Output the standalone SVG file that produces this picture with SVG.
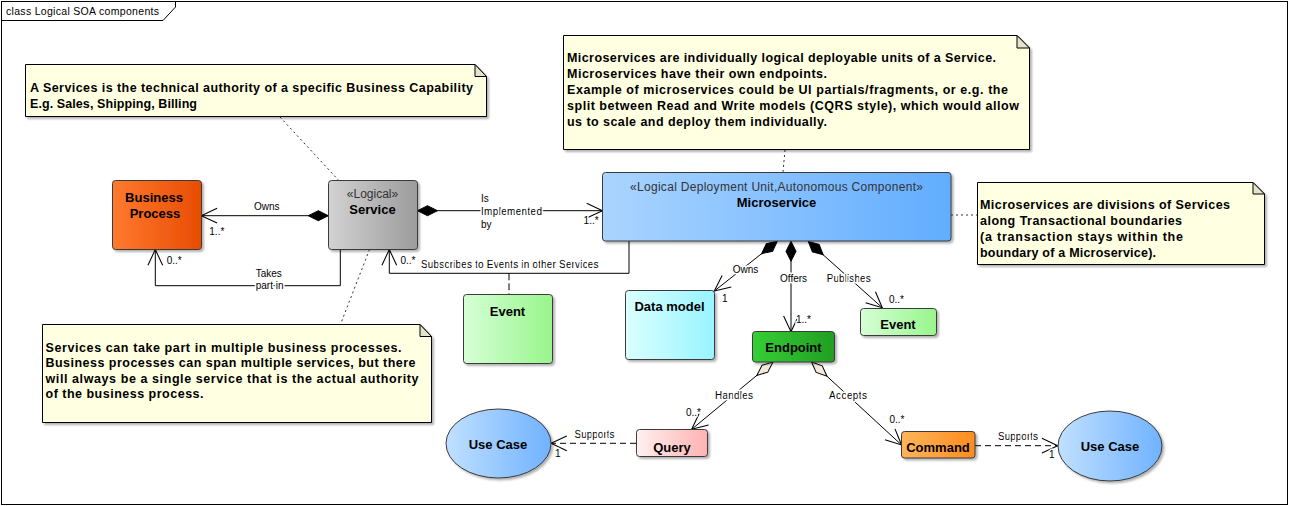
<svg xmlns="http://www.w3.org/2000/svg" width="1290" height="506" viewBox="0 0 1290 506">
<defs>
<style>
.box{stroke:#3a3a3a;stroke-width:1;filter:url(#sh)}
.note{fill:#FFFFE1;stroke:#000;stroke-width:1;filter:url(#sh)}
.fold{fill:#E4E4CC;stroke:#000;stroke-width:1}
.t{font-family:"Liberation Sans",Arial,sans-serif;fill:#000}
.nt{font-size:12.5px;font-weight:bold}
.nm{font-size:13px;font-weight:bold;text-anchor:middle}
.st{font-size:12px;text-anchor:middle;fill:#333}
.lb{font-size:10px;stroke:#fff;stroke-width:3;paint-order:stroke;stroke-linejoin:round}
.ln{fill:none;stroke:#000;stroke-width:1}
.dash{stroke-dasharray:6,4}
.dot{fill:none;stroke:#333;stroke-width:1;stroke-dasharray:2,3}
</style>
<filter id="sh" x="-10%" y="-10%" width="130%" height="130%">
<feDropShadow dx="2" dy="2" stdDeviation="1.2" flood-color="#000" flood-opacity="0.3"/>
</filter>
<linearGradient id="gBP" x1="0" x2="1"><stop offset="0" stop-color="#FF7A2E"/><stop offset="1" stop-color="#E84C02"/></linearGradient>
<linearGradient id="gSV" x1="0" x2="1"><stop offset="0" stop-color="#D2D2D2"/><stop offset="1" stop-color="#9C9C9C"/></linearGradient>
<linearGradient id="gMS" x1="0" x2="1"><stop offset="0" stop-color="#AAD4FF"/><stop offset="1" stop-color="#62ADFF"/></linearGradient>
<linearGradient id="gEV" x1="0" x2="1"><stop offset="0" stop-color="#D6FFD6"/><stop offset="1" stop-color="#98F58C"/></linearGradient>
<linearGradient id="gDM" x1="0" x2="1"><stop offset="0" stop-color="#DAFFFF"/><stop offset="1" stop-color="#98F4FF"/></linearGradient>
<linearGradient id="gEP" x1="0" x2="1"><stop offset="0" stop-color="#36CE36"/><stop offset="1" stop-color="#229E22"/></linearGradient>
<linearGradient id="gQ" x1="0" x2="1"><stop offset="0" stop-color="#FFF0F0"/><stop offset="1" stop-color="#FFB2B2"/></linearGradient>
<linearGradient id="gC" x1="0" x2="1"><stop offset="0" stop-color="#FFB45A"/><stop offset="1" stop-color="#FF8C1E"/></linearGradient>
<linearGradient id="gUC" x1="0" x2="1"><stop offset="0" stop-color="#C0E0FF"/><stop offset="1" stop-color="#70B2FF"/></linearGradient>
<marker id="arr" markerUnits="userSpaceOnUse" markerWidth="20" markerHeight="20" viewBox="-17 -9 19 18" refX="0" refY="0" orient="auto" overflow="visible">
<path d="M-15,-7 L0,0 L-15,7" fill="none" stroke="#000" stroke-width="1"/>
</marker>
<marker id="dia" markerUnits="userSpaceOnUse" markerWidth="22" markerHeight="12" viewBox="-1 -6 22 12" refX="0" refY="0" orient="auto" overflow="visible">
<path d="M0,0 L10,-5 L20,0 L10,5 Z" fill="#000" stroke="#000" stroke-width="1"/>
</marker>
<marker id="hdia" markerUnits="userSpaceOnUse" markerWidth="24" markerHeight="12" viewBox="-1 -6 24 12" refX="0" refY="0" orient="auto" overflow="visible">
<path d="M0,0 L10.5,-4.5 L21,0 L10.5,4.5 Z" fill="#F2EADA" stroke="#000" stroke-width="1"/>
</marker>
</defs>

<g id="frame">
<rect x="1.5" y="1.5" width="1286" height="503" fill="#fff" stroke="#000"/>
<path d="M1.5,20.5 L163,20.5 L175.5,7 L175.5,1.5" fill="none" stroke="#000"/>
<text class="t" x="6" y="14.5" font-size="10.5" textLength="153">class Logical SOA components</text>
</g>

<g id="connectors">
<path class="ln" d="M328.3,215.7 L201.3,215.7" marker-start="url(#dia)" marker-end="url(#arr)"/>
<path class="ln" d="M340.3,249.3 L340.3,285.7 L155.3,285.7 L155.3,249.5" marker-end="url(#arr)"/>
<path class="ln" d="M417.5,210.7 L602.5,210.7" marker-start="url(#dia)" marker-end="url(#arr)"/>
<path class="ln" d="M629,241 L629,273.3 L389.3,273.3 L389.3,249.5" marker-end="url(#arr)"/>
<path class="ln" d="M509,273.3 L509,294" stroke-dasharray="7,3"/>
<path class="ln" d="M777.3,241.3 L714.3,291" marker-start="url(#dia)" marker-end="url(#arr)"/>
<path class="ln" d="M791,241.3 L791,331.7" marker-start="url(#dia)" marker-end="url(#arr)"/>
<path class="ln" d="M808.3,241.5 L882.3,307.7" marker-start="url(#dia)" marker-end="url(#arr)"/>
<path class="ln" d="M773,362 L691.7,429.3" marker-start="url(#hdia)" marker-end="url(#arr)"/>
<path class="ln" d="M811.5,362 L901.6,445" marker-start="url(#hdia)" marker-end="url(#arr)"/>
<path class="ln dash" d="M636,443.3 L551,443.3" marker-end="url(#arr)"/>
<path class="ln dash" d="M975,445.7 L1057.7,445.7" marker-end="url(#arr)"/>
<path class="dot" d="M280,117 L338.3,180"/>
<path class="dot" d="M369.5,249.5 L340.5,324.3"/>
<path class="dot" d="M785,150 L783,172"/>
<path class="dot" d="M951,215 L977,215"/>

<text class="t lb" x="254" y="210">Owns</text>
<text class="t lb" x="209.3" y="235">1..*</text>
<text class="t lb" x="255.7" y="276.7">Takes</text>
<text class="t lb" x="255.7" y="289.3">part in</text>
<text class="t lb" x="166.7" y="264.3">0..*</text>
<text class="t lb" x="481" y="202.3">Is</text>
<text class="t lb" x="481" y="215" textLength="61">Implemented</text>
<text class="t lb" x="481" y="227.5">by</text>
<text class="t lb" x="583.6" y="224">1..*</text>
<text class="t lb" x="400.5" y="264.3">0..*</text>
<text class="t lb" x="421" y="268" textLength="177.6">Subscribes to Events in other Services</text>
<text class="t lb" x="732.7" y="273.3">Owns</text>
<text class="t lb" x="722" y="301.7">1</text>
<text class="t lb" x="780" y="282.3">Offers</text>
<text class="t lb" x="796" y="323">1..*</text>
<text class="t lb" x="826.7" y="281.7" textLength="44">Publishes</text>
<text class="t lb" x="889" y="303.3">0..*</text>
<text class="t lb" x="715" y="398.5" textLength="38">Handles</text>
<text class="t lb" x="686" y="415.7">0..*</text>
<text class="t lb" x="829" y="398.5" textLength="38">Accepts</text>
<text class="t lb" x="889.5" y="423">0..*</text>
<text class="t lb" x="574.5" y="438" textLength="40">Supports</text>
<text class="t lb" x="555" y="457">1</text>
<text class="t lb" x="998" y="440" textLength="40">Supports</text>
<text class="t lb" x="1049" y="458">1</text>
</g>

<g id="note-service">
<path class="note" d="M25.5,64.5 L475,64.5 L486.5,76.5 L486.5,116.5 L25.5,116.5 Z"/>
<path class="fold" d="M475,64.5 L475,76.5 L486.5,76.5 Z"/>
<text class="t nt" x="30" y="91.5" textLength="443">A Services is the technical authority of a specific Business Capability</text>
<text class="t nt" x="30" y="107.5" textLength="167">E.g. Sales, Shipping, Billing</text>
</g>

<g id="note-microservice">
<path class="note" d="M563.5,35.5 L1017,35.5 L1029.5,48 L1029.5,149.5 L563.5,149.5 Z"/>
<path class="fold" d="M1017,35.5 L1017,48 L1029.5,48 Z"/>
<text class="t nt" x="567" y="62" textLength="429">Microservices are individually logical deployable units of a Service.</text>
<text class="t nt" x="567" y="78" textLength="260">Microservices have their own endpoints.</text>
<text class="t nt" x="567" y="94" textLength="441">Example of microservices could be UI partials/fragments, or e.g. the</text>
<text class="t nt" x="567" y="110" textLength="452">split between Read and Write models (CQRS style), which would allow</text>
<text class="t nt" x="567" y="125.7" textLength="260">us to scale and deploy them individually.</text>
</g>

<g id="note-transactional">
<path class="note" d="M977.5,182.5 L1253,182.5 L1264.5,194 L1264.5,264.5 L977.5,264.5 Z"/>
<path class="fold" d="M1253,182.5 L1253,194 L1264.5,194 Z"/>
<text class="t nt" x="980" y="209" textLength="250">Microservices are divisions of Services</text>
<text class="t nt" x="980" y="225" textLength="202">along Transactional boundaries</text>
<text class="t nt" x="980" y="240.7" textLength="203">(a transaction stays within the</text>
<text class="t nt" x="980" y="256.7" textLength="176">boundary of a Microservice).</text>
</g>

<g id="note-process">
<path class="note" d="M42.5,324.5 L420,324.5 L431.5,336.5 L431.5,422.5 L42.5,422.5 Z"/>
<path class="fold" d="M420,324.5 L420,336.5 L431.5,336.5 Z"/>
<text class="t nt" x="45.5" y="351.7" textLength="356">Services can take part in multiple business processes.</text>
<text class="t nt" x="45.5" y="367" textLength="370">Business processes can span multiple services, but there</text>
<text class="t nt" x="45.5" y="382.7" textLength="373">will always be a single service that is the actual authority</text>
<text class="t nt" x="45.5" y="398" textLength="158">of the business process.</text>
</g>

<g id="business-process">
<rect class="box" x="112.5" y="180.5" width="89" height="69" rx="3" fill="url(#gBP)"/>
<text class="t nm" x="154" y="201.7">Business</text>
<text class="t nm" x="155" y="217.7">Process</text>
</g>

<g id="service">
<rect class="box" x="328.5" y="180.5" width="89" height="69" rx="3" fill="url(#gSV)"/>
<text class="t st" x="372.5" y="198.3">«Logical»</text>
<text class="t nm" x="372.5" y="214.3">Service</text>
</g>

<g id="microservice">
<rect class="box" x="602.5" y="172.5" width="348.5" height="68.5" rx="3" fill="url(#gMS)"/>
<text class="t st" x="776.5" y="190.5" textLength="293">«Logical Deployment Unit,Autonomous Component»</text>
<text class="t nm" x="776.5" y="206.7">Microservice</text>
</g>

<g id="event-subscribed">
<rect class="box" x="463.5" y="294.5" width="89" height="69" rx="3" fill="url(#gEV)"/>
<text class="t nm" x="507.5" y="316">Event</text>
</g>

<g id="data-model">
<rect class="box" x="625.5" y="290.5" width="89" height="69" rx="3" fill="url(#gDM)"/>
<text class="t nm" x="669.5" y="311">Data model</text>
</g>

<g id="endpoint">
<rect class="box" x="752.5" y="331.5" width="82" height="30.5" rx="3" fill="url(#gEP)"/>
<text class="t nm" x="793.5" y="352">Endpoint</text>
</g>

<g id="event-published">
<rect class="box" x="860.5" y="308.5" width="76" height="27" rx="3" fill="url(#gEV)"/>
<text class="t nm" x="898" y="329.3">Event</text>
</g>

<g id="query">
<rect class="box" x="636.5" y="429.5" width="71" height="27" rx="3" fill="url(#gQ)"/>
<text class="t nm" x="672" y="451.5">Query</text>
</g>

<g id="command">
<rect class="box" x="901.5" y="431.5" width="73.5" height="26.5" rx="3" fill="url(#gC)"/>
<text class="t nm" x="938" y="452">Command</text>
</g>

<g id="usecase-query">
<ellipse class="box" cx="498.5" cy="443.5" rx="52.5" ry="34.5" fill="url(#gUC)"/>
<text class="t nm" x="498" y="448.7">Use Case</text>
</g>

<g id="usecase-command">
<ellipse class="box" cx="1110" cy="446" rx="52" ry="35" fill="url(#gUC)"/>
<text class="t nm" x="1110" y="451">Use Case</text>
</g>
</svg>
